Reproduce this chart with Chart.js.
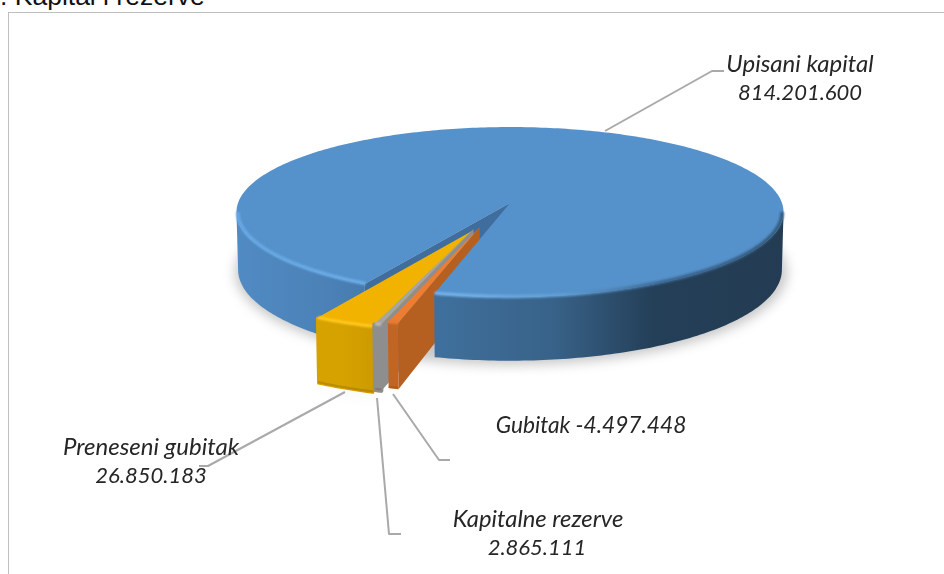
<!DOCTYPE html>
<html><head><meta charset="utf-8">
<script src="https://cdn.jsdelivr.net/npm/chart.js@4"></script>
<style>
html,body{margin:0;padding:0;background:#fff;overflow:hidden}
#wrap{position:relative;width:944px;height:574px;overflow:hidden}
#frame{position:absolute;left:8px;top:12px;width:960px;height:600px;border:1px solid #bfbfbf;box-sizing:border-box}
#title{position:absolute;left:0;top:-19px;font:26.5px "Liberation Sans",Arial,sans-serif;color:#111;white-space:nowrap}
canvas{position:absolute;left:0;top:0}
</style></head>
<body><div id="wrap">
<div id="frame"></div>
<div id="title">. Kapital i rezerve</div>
<canvas id="c" width="944" height="574"></canvas>
</div>
<script>
const categories = ["Upisani kapital","Gubitak","Kapitalne rezerve","Preneseni gubitak"];
const values = [814201600,-4497448,2865111,26850183];
const colors = ["#5591ca","#ed7d31","#a5a5a5","#f2b200"];

// Projection of the pie disc on the page
const P = {cx:510,cy:203,R:272,S:84,k:0.106,D:57};
const explode = [null,{x:-0.108,y:0.277},{x:-0.13,y:0.30},{x:-0.135,y:0.322}];
const wallStyle = [null,
  {rim:"#c06524",wall:"#b55e20",edge:"#e07a33",rad:"#b55f21",bevel:0},
  {rim:"#8e8e8e",wall:"#8e8e8e",edge:"#b9b9b9",rad:"#8e8e8e",bevel:4},
  {rim:"#d6a200",wall:"#c99700",edge:"#ffc91f",rad:"#c99700",bevel:2}];
const leaders = [
  [[605,131],[712,71],[724,71]],
  [[393,394],[439,460],[450,460]],
  [[377,398],[389,534],[401,534]],
  [[345,392],[208,466],[199,466]]
];
const labelPos = [
  [{x:800,y:64,t:0,f:24},{x:800,y:93,t:1,f:22}],
  [{x:591,y:426,t:2,f:22.7}],
  [{x:538,y:519,t:0,f:23.8},{x:537,y:548,t:1,f:22}],
  [{x:151,y:447,t:0,f:24},{x:151,y:476,t:1,f:22}]
];
const fmt = v => (v<0?"-":"")+Math.abs(v).toString().replace(/\B(?=(\d{3})+$)/g,".");

function pt(u,v,h){
  const w=1-P.k*v;
  return {x:P.cx+P.R*u/w*(1-0.006*h), y:P.cy+(P.S*v+P.D*h)/w};
}
function arcPts(a0,a1,o,r){
  const n=Math.max(4,Math.ceil(Math.abs(a1-a0)*60)),pts=[];
  for(let i=0;i<=n;i++){const a=a0+(a1-a0)*i/n;pts.push({u:o.x+r*Math.cos(a),v:o.y+r*Math.sin(a)});}
  return pts;
}
function poly(ctx,list){
  ctx.beginPath();
  list.forEach((p,i)=>i?ctx.lineTo(p.x,p.y):ctx.moveTo(p.x,p.y));
  ctx.closePath();
}
function side(ctx,a0,a1,o,fill,bevel){
  const pts=arcPts(a0,a1,o,1);
  const top=pts.map(p=>pt(p.u,p.v,0)),bot=pts.map(p=>pt(p.u,p.v,1)).reverse();
  poly(ctx,top.concat(bot));ctx.fillStyle=fill;ctx.fill();
  if(bevel){ctx.strokeStyle=fill;ctx.lineWidth=bevel;ctx.lineJoin='round';ctx.stroke();}
}
function wall(ctx,a,o,fill){
  const e={u:o.x+Math.cos(a),v:o.y+Math.sin(a)},c={u:o.x,v:o.y};
  poly(ctx,[pt(c.u,c.v,0),pt(e.u,e.v,0),pt(e.u,e.v,1),pt(c.u,c.v,1)]);
  ctx.fillStyle=fill;ctx.fill();
}
function rimStroke(ctx,a0,a1,o,r,style,lw,blur){
  ctx.save();ctx.filter='blur('+blur+'px)';
  const list=arcPts(a0,a1,o,r).map(p=>pt(p.u,p.v,0));
  ctx.beginPath();list.forEach((p,i)=>i?ctx.lineTo(p.x,p.y):ctx.moveTo(p.x,p.y));
  ctx.strokeStyle=style;ctx.lineWidth=lw;ctx.stroke();ctx.restore();
}

const pie3d = {
  id:'pie3d',
  beforeDatasetsDraw(chart){
    const ctx=chart.ctx, arcs=chart.getDatasetMeta(0).data;
    const blue=arcs[0];
    const a0=blue.startAngle, a1=blue.endAngle;
    const zero={x:0,y:0};
    const sil=Math.asin(P.k);
    ctx.save();
    // soft shadow
    ctx.save();ctx.filter='blur(6px)';ctx.fillStyle='rgba(0,0,0,0.22)';
    poly(ctx,arcPts(0,Math.PI*2,{x:0.004,y:0.025},1.012).map(p=>pt(p.u,p.v,1)));ctx.fill();
    const o3=explode[3];
    poly(ctx,arcPts(arcs[1].startAngle,arcs[3].endAngle,{x:o3.x,y:o3.y+0.03},1).map(p=>pt(p.u,p.v,1)));ctx.fill();
    ctx.restore();

    const grad=ctx.createLinearGradient(237,0,784,0);
    [[0,"#518bc3"],[0.18,"#4a80b5"],[0.36,"#3f709d"],[0.58,"#386288"],[0.76,"#243f58"],[1,"#233c53"]].forEach(s=>grad.addColorStop(s[0],s[1]));

    // left part of the big slice
    side(ctx,a0,Math.PI-sil,zero,grad);
    wall(ctx,a0,zero,"#3f6d9d");

    // exploded slices, left to right
    for(let i=3;i>=1;i--){
      const el=arcs[i],o=explode[i],st=wallStyle[i];
      ctx.save();
      const g=ctx.createLinearGradient(pt(o.x+Math.cos(el.endAngle),0,0).x,0,pt(o.x+Math.cos(el.startAngle),0,0).x,0);
      g.addColorStop(0,st.rim);g.addColorStop(1,st.wall);
      wall(ctx,el.startAngle,o,st.rad);
      side(ctx,el.startAngle,el.endAngle,o,g,st.bevel);
      const foot=arcPts(el.startAngle,el.endAngle,o,1).map(p=>pt(p.u,p.v,0.98));
      ctx.beginPath();foot.forEach((p,j)=>j?ctx.lineTo(p.x,p.y):ctx.moveTo(p.x,p.y));
      ctx.strokeStyle='rgba(90,60,0,0.22)';ctx.lineWidth=2;ctx.stroke();
      const c=pt(o.x,o.y,0);
      poly(ctx,[c].concat(arcPts(el.startAngle,el.endAngle,o,1).map(p=>pt(p.u,p.v,0))));
      ctx.fillStyle=el.options.backgroundColor;ctx.fill();
      rimStroke(ctx,el.startAngle,el.endAngle,o,0.995,st.edge,3,0.8);
      ctx.restore();
    }

    // right part of the big slice, then its top
    side(ctx,sil,a1-Math.PI*2,zero,grad);
    const c0=pt(0,0,0);
    poly(ctx,[c0].concat(arcPts(a0,a1,zero,1).map(p=>pt(p.u,p.v,0))));
    ctx.fillStyle=blue.options.backgroundColor;ctx.fill();

    // bevel along the front rim
    const hl=ctx.createLinearGradient(237,0,784,0);
    [[0,"#66a9e6"],[0.08,"#68aae6"],[0.4,"#74b2ea"],[0.6,"#5f9dd4"],[0.78,"#3b6690"],[0.97,"#33597c"],[1,"#33597c"]].forEach(s=>hl.addColorStop(s[0],s[1]));
    rimStroke(ctx,a0,Math.PI-sil,zero,0.995,hl,3.5,1);
    rimStroke(ctx,sil,a1-Math.PI*2,zero,0.995,hl,3.5,1);
    ctx.restore();
    return false;
  },
  afterDraw(chart){
    const ctx=chart.ctx;
    ctx.save();
    ctx.strokeStyle='#a9a9a9';ctx.lineWidth=2;ctx.lineJoin='round';
    leaders.forEach(l=>{ctx.beginPath();l.forEach((p,i)=>i?ctx.lineTo(p[0],p[1]):ctx.moveTo(p[0],p[1]));ctx.stroke();});
    ctx.fillStyle='#262626';ctx.textAlign='center';ctx.textBaseline='middle';
    const ls=chart.data.labels, vs=chart.data.datasets[0].data;
    labelPos.forEach((rows,i)=>rows.forEach(r=>{
      const s=r.t===0?ls[i]:r.t===1?fmt(vs[i]):ls[i]+" "+fmt(vs[i]);
      ctx.font='italic '+r.f+'px Lato';
      ctx.fillText(s,r.x,r.y);
    }));
    ctx.restore();
  }
};

new Chart(document.getElementById('c'),{
  type:'pie',
  data:{labels:categories,datasets:[{data:values,backgroundColor:colors,borderWidth:0}]},
  options:{responsive:false,animation:false,rotation:209,
    plugins:{legend:{display:false},tooltip:{enabled:false},title:{display:false}}},
  plugins:[pie3d]
});
</script>
</body></html>
